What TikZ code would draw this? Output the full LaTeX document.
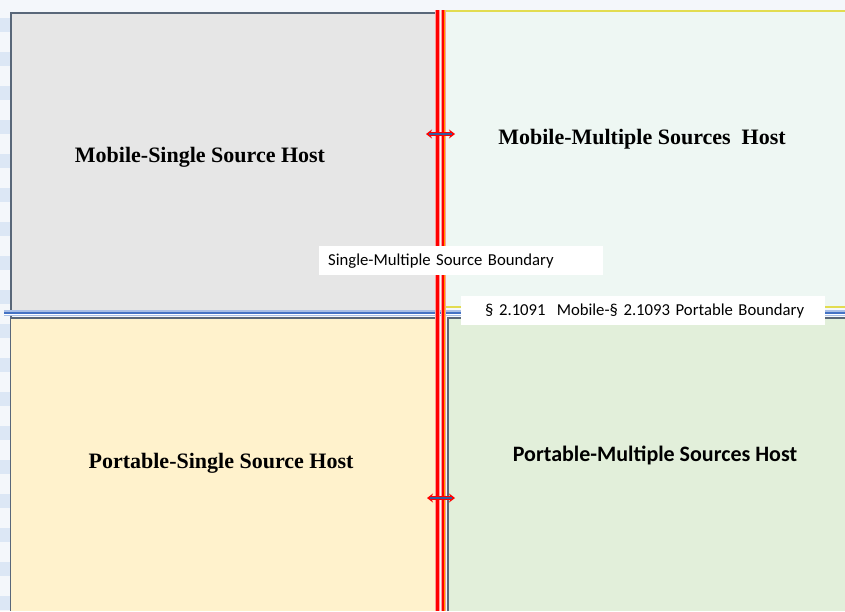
\documentclass[tikz,border=0pt]{standalone}
\usepackage{fontspec}
\setmainfont{Liberation Serif}
\newfontfamily\calfont{Carlito}
\usetikzlibrary{arrows.meta}
\definecolor{cgray}{HTML}{E6E6E6}
\definecolor{cmint}{HTML}{EEF7F3}
\definecolor{ccream}{HTML}{FFF2CC}
\definecolor{cgreen}{HTML}{E2EFDA}
\definecolor{cborder}{HTML}{596779}
\definecolor{cred}{HTML}{FF0000}
\definecolor{cpink}{HTML}{FF9A9A}
\definecolor{cblue}{HTML}{4472C4}
\definecolor{clblue}{HTML}{A9BFE6}
\definecolor{cyell}{HTML}{E2DC50}
\definecolor{cstripe}{HTML}{DCE7F5}
\definecolor{cbg}{HTML}{F4F7FB}
\tikzset{
  quad/.style={draw=cborder, line width=1.3pt},
  hosttext/.style={font=\bfseries\fontsize{22}{24}\selectfont, inner sep=0pt},
  hostsans/.style={font=\calfont\bfseries\fontsize{22}{24}\selectfont, inner sep=0pt},
  bndlabel/.style={fill=white, font=\calfont\fontsize{16.7}{19}\selectfont, inner xsep=0pt, inner ysep=0pt, anchor=north west, align=left, minimum height=29pt},
  redline/.style={draw=cred, line width=3.6pt},
  redhalo/.style={draw=cpink, line width=5pt},
  dblarrow/.style={draw=cred, line width=4pt, {Stealth[length=6pt,width=9pt]}-{Stealth[length=6pt,width=9pt]}},
  dblarrowin/.style={draw=cblue!80!black, line width=1.8pt},
}
\begin{document}
\begin{tikzpicture}[x=1pt,y=-1pt]
\useasboundingbox (0,0) rectangle (845,611);
% background
\fill[cbg] (0,0) rectangle (845,611);
\foreach \yy in {18,52,86,120,154,188,222,256,290,324,358,392,426,460,494,528,562,596}
  \fill[cstripe] (0,\yy) rectangle (10,\yy+14);
% boxes
\fill[cgray] (11,13) rectangle (436,312);
\draw[quad] (11,611) -- (11,13) -- (436,13);
\fill[cmint] (446,11) rectangle (845,307);
\draw[cyell, line width=1.3pt] (446,11) -- (845,11);
\draw[cyell, line width=1.3pt] (446,307) -- (845,307);
\fill[ccream] (11,318) rectangle (436,611);
\draw[quad] (11,318) -- (436,318);
\fill[cgreen] (448,318) rectangle (845,611);
\draw[quad] (448,611) -- (448,318) -- (845,318);
% horizontal blue boundary
\coordinate (hl) at (4,313);
\coordinate (hr) at (845,313);
\draw[clblue, line width=6pt] (hl) -- (hr);
\draw[cblue, line width=2.6pt] (hl) -- (hr);
\draw[white, line width=0.6pt] ([yshift=-1.6pt]hl) -- ([yshift=-1.6pt]hr);
% vertical red boundary
\coordinate (v1t) at (437.5,10);
\coordinate (v1b) at (437.5,611);
\coordinate (v2t) at (443.5,10);
\coordinate (v2b) at (443.5,611);
\draw[redhalo] (v1t) -- (v1b);
\draw[redhalo] (v2t) -- (v2b);
\draw[redline] (v1t) -- (v1b);
\draw[redline] (v2t) -- (v2b);
\draw[orange!80!yellow, line width=0.8pt] ([xshift=0.9pt]v2t) -- ([xshift=0.9pt]v2b);
% arrows
\coordinate (a1l) at (426,134);
\coordinate (a1r) at (455,134);
\coordinate (a2l) at (427,498);
\coordinate (a2r) at (455,498);
\draw[dblarrow] (a1l) -- (a1r);
\draw[dblarrowin] ([xshift=3pt]a1l) -- ([xshift=-3pt]a1r);
\draw[dblarrow] (a2l) -- (a2r);
\draw[dblarrowin] ([xshift=3pt]a2l) -- ([xshift=-3pt]a2r);
% host texts
\node[hosttext] (ms) at (200,157) {Mobile-Single Source Host};
\node[hosttext] (mm) at (642,139) {Mobile-Multiple Sources\ \ Host};
\node[hosttext] (ps) at (221,463) {Portable-Single Source Host};
\node[hostsans] (pm) at (655,455) {Portable-Multiple Sources Host};
% boundary labels
\node[bndlabel, text width=284pt] (b1) at (319,246) {\hspace*{9pt}Single-Multiple Source Boundary};
\node[bndlabel, text width=364pt] (b2) at (461,296) {\hspace*{24pt}\S\ 2.1091\ \ Mobile-\S\ 2.1093 Portable Boundary};
\end{tikzpicture}
\end{document}
